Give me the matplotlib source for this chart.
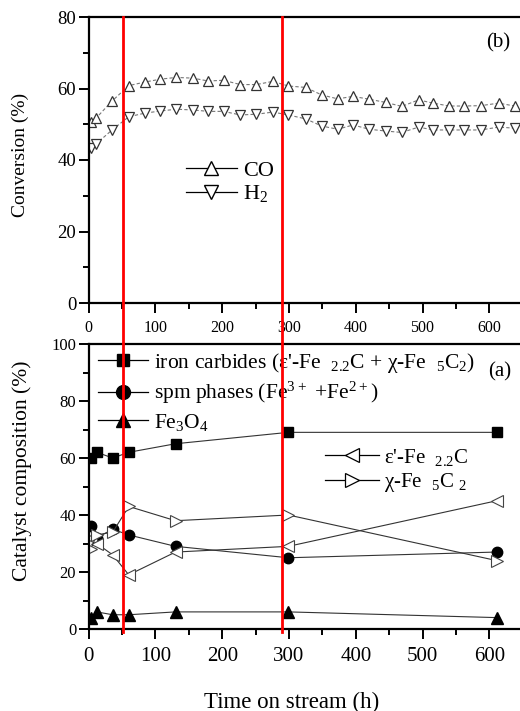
import matplotlib
matplotlib.use("Agg")
import matplotlib.pyplot as plt
from matplotlib.lines import Line2D
from matplotlib.transforms import blended_transform_factory

plt.rcParams['font.family'] = ['Liberation Serif', 'DejaVu Serif']
plt.rcParams['mathtext.fontset'] = 'custom'
plt.rcParams['mathtext.rm'] = 'Liberation Serif'
plt.rcParams['mathtext.default'] = 'regular'

# ---- data: conversion (top panel) ----
t_conv = [3, 11, 35, 60, 84, 107, 131, 156, 179, 202, 227, 251, 276, 299,
          325, 349, 373, 396, 420, 445, 469, 494, 516, 540, 562, 587, 614, 638]
co_conv = [50.5, 51.7, 56.5, 60.8, 61.8, 62.6, 63.1, 62.9, 62.1, 62.3, 61.1, 61.1, 62.0, 60.7,
           60.3, 58.2, 57.1, 57.8, 57.0, 56.1, 55.0, 56.8, 55.9, 55.1, 55.1, 55.2, 55.9, 55.1]
h2_conv = [43.3, 44.5, 48.4, 52.1, 53.1, 53.7, 54.2, 54.0, 53.6, 53.6, 52.6, 52.8, 53.4, 52.6,
           51.5, 49.5, 48.6, 49.8, 48.6, 48.1, 47.7, 49.2, 48.4, 48.4, 48.4, 48.4, 49.2, 48.9]

# ---- data: catalyst composition (bottom panel) ----
t_comp = [3, 12, 36, 60, 130, 299, 611]
iron_carbides = [60, 62, 60, 62, 65, 69, 69]
spm_phases = [36, 32, 35, 33, 29, 25, 27]
fe3o4 = [4, 6, 5, 5, 6, 6, 4]
eps_fe22c = [32, 30, 26, 19, 27, 29, 45]
chi_fe5c2 = [28, 33, 34, 43, 38, 40, 24]

# vertical reference lines (h)
ref_times = [52, 290]

W, H = 520, 711
fig = plt.figure(figsize=(W / 100, H / 100), dpi=100)

left = 88.7 / W
width = 434 / W
ax1 = fig.add_axes([left, 1 - 303 / H, width, (303 - 17) / H])
ax2 = fig.add_axes([left, 1 - 629 / H, width, (629 - 344) / H])

for ax in (ax1, ax2):
    ax.set_xlim(0, 650)
    ax.spines['right'].set_visible(False)
    for s in ('left', 'bottom', 'top'):
        ax.spines[s].set_linewidth(1.6)
    ax.set_xticks(range(0, 601, 100))
    ax.set_xticks(range(50, 651, 100), minor=True)
    ax.tick_params(which='major', direction='out', length=7, width=1.4,
                   top=False, right=False)
    ax.tick_params(which='minor', direction='out', length=4, width=1.4,
                   top=False, right=False)

# ---- top panel ----
ax1.set_ylim(0, 80)
ax1.set_yticks(range(0, 81, 20))
ax1.set_yticks(range(10, 80, 20), minor=True)
ax1.tick_params(axis='y', labelsize=13.5, pad=2)
ax1.tick_params(axis='x', labelsize=11.5, pad=5)

ax1.plot(t_conv, co_conv, linestyle=(0, (3, 2)), color='#777777', lw=0.8,
         marker='^', ms=7.5, mfc='white', mec='#333333', mew=0.9)
ax1.plot(t_conv, h2_conv, linestyle=(0, (3, 2)), color='#777777', lw=0.8,
         marker='v', ms=7.5, mfc='white', mec='#333333', mew=0.9)

h_co = Line2D([], [], color='k', lw=0.9, marker='^', ms=10, mfc='white', mec='k', mew=1.0)
h_h2 = Line2D([], [], color='k', lw=0.9, marker='v', ms=10, mfc='white', mec='k', mew=1.0)
ax1.legend([h_co, h_h2], ['CO', 'H$_2$'], loc='center left',
           bbox_to_anchor=(0.224, 0.421), frameon=False, fontsize=16,
           handlelength=2.3, handletextpad=0.26, labelspacing=0.1,
           borderpad=0, borderaxespad=0, numpoints=1)
ax1.text(0.943, 0.909, '(b)', transform=ax1.transAxes, fontsize=15,
         ha='center', va='center')
ax1.set_ylabel('Conversion (%)', fontsize=14, va='center')
ax1.yaxis.set_label_coords(-0.158, 0.517)

# ---- bottom panel ----
ax2.set_ylim(0, 100)
ax2.set_yticks(range(0, 101, 20))
ax2.set_yticks(range(10, 100, 20), minor=True)
ax2.tick_params(axis='y', labelsize=12, pad=2)
ax2.tick_params(axis='x', labelsize=15, pad=6)

line_kw = dict(color='#333333', lw=0.8)
ax2.plot(t_comp, iron_carbides, marker='s', ms=7, mfc='k', mec='k', **line_kw)
ax2.plot(t_comp, spm_phases, marker='o', ms=7.5, mfc='k', mec='k', **line_kw)
ax2.plot(t_comp, fe3o4, marker='^', ms=8, mfc='k', mec='k', **line_kw)
ax2.plot(t_comp, eps_fe22c, marker='<', ms=8.5, mfc='white', mec='#444444', mew=0.8, **line_kw)
ax2.plot(t_comp, chi_fe5c2, marker='>', ms=8.5, mfc='white', mec='#444444', mew=0.8, **line_kw)

hk = dict(color='k', lw=0.9)
h_ic = Line2D([], [], marker='s', ms=9, mfc='k', mec='k', **hk)
h_spm = Line2D([], [], marker='o', ms=10, mfc='k', mec='k', **hk)
h_fe = Line2D([], [], marker='^', ms=10, mfc='k', mec='k', **hk)
leg1 = ax2.legend([h_ic, h_spm, h_fe],
                  ["iron carbides (ε'-Fe  $_{2.2}$C + χ-Fe  $_{5}$C$_{2}$)",
                   'spm phases (Fe$^{3+}$ +Fe$^{2+}$)',
                   'Fe$_3$O$_4$'],
                  loc='center left', bbox_to_anchor=(0.0214, 0.832), frameon=False,
                  fontsize=15.5, handlelength=2.3, handletextpad=0.3,
                  labelspacing=0.25, borderpad=0, borderaxespad=0, numpoints=1)
ax2.add_artist(leg1)

h_eps = Line2D([], [], marker='<', ms=10, mfc='white', mec='k', mew=0.9, **hk)
h_chi = Line2D([], [], marker='>', ms=10, mfc='white', mec='k', mew=0.9, **hk)
ax2.legend([h_eps, h_chi], ["ε'-Fe  $_{2.2}$C", 'χ-Fe  $_{5}$C $_{2}$'],
           loc='center left', bbox_to_anchor=(0.5445, 0.557), frameon=False,
           fontsize=15, handlelength=2.6, handletextpad=0.25, labelspacing=0.15,
           borderpad=0, borderaxespad=0, numpoints=1)

ax2.text(0.948, 0.902, '(a)', transform=ax2.transAxes, fontsize=15,
         ha='center', va='center')
ax2.set_ylabel('Catalyst composition (%)', fontsize=15.5, va='center')
ax2.yaxis.set_label_coords(-0.154, 0.555)
ax2.set_xlabel('Time on stream (h)', fontsize=16.5)
ax2.xaxis.set_label_coords(0.468, -0.256)
ax2.xaxis.label.set_va('center')

# red reference lines spanning both panels
tr = blended_transform_factory(ax2.transData, fig.transFigure)
for tx in ref_times:
    fig.add_artist(Line2D([tx, tx], [1 - 632 / H, 1 - 17 / H], transform=tr,
                          color='#ff0000', lw=2.0, zorder=10))

fig.savefig('out.png', dpi=100)
